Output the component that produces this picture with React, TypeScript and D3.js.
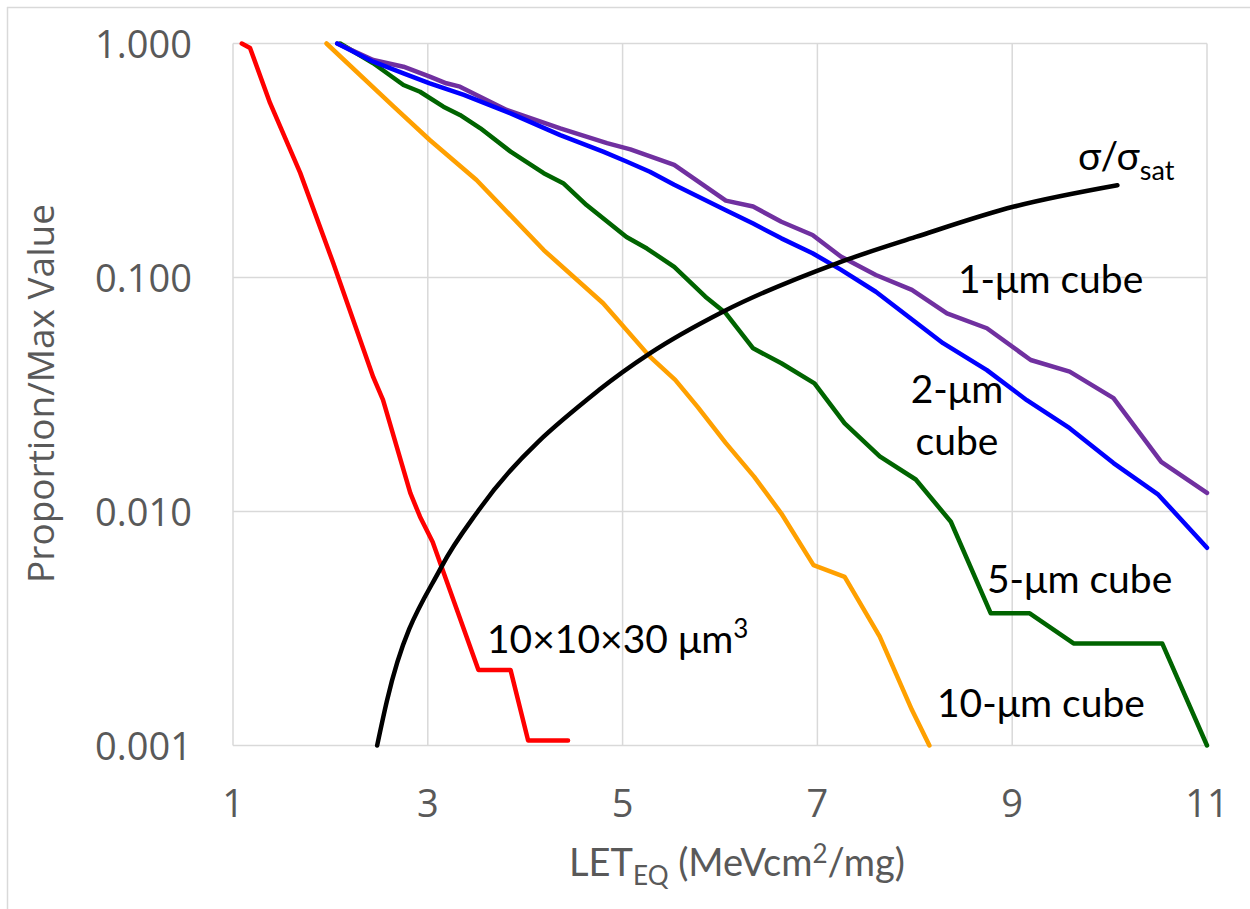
import React from "react";
import * as d3 from "d3";

const W = 1250;
const H = 909;

// x-axis (LET) ticks and y-axis (log) ticks
const xTicks = [1, 3, 5, 7, 9, 11];
const yTicks = [1, 0.1, 0.01, 0.001];
const yTickLabels = ["1.000", "0.100", "0.010", "0.001"];

// 10x10x30 um^3
const redX = [1.09, 1.175, 1.38, 1.69, 2.03, 2.44, 2.54, 2.82, 2.92, 3.05, 3.52, 3.85, 4.03, 4.44];
const redY = [1.0, 0.957, 0.557, 0.28, 0.115, 0.0375, 0.03, 0.012, 0.0095, 0.0074, 0.0021, 0.0021, 0.00105, 0.00105];

// 10-um cube
const orangeX = [1.96, 2.65, 3.02, 3.5, 4.19, 4.8, 5.28, 5.54, 5.77, 6.06, 6.35, 6.63, 6.96, 7.28, 7.64, 7.97, 8.15];
const orangeY = [1.0, 0.537, 0.387, 0.261, 0.131, 0.0776, 0.0459, 0.0365, 0.028, 0.0196, 0.0141, 0.0098, 0.0059, 0.00526, 0.00292, 0.00142, 0.001];

// 5-um cube
const greenX = [2.1, 2.44, 2.75, 2.92, 3.16, 3.33, 3.54, 3.85, 4.19, 4.39, 4.63, 5.04, 5.25, 5.53, 5.85, 6.06, 6.34, 6.63, 6.97, 7.28, 7.64, 8.01, 8.37, 8.78, 9.18, 9.63, 10.54, 11.0];
const greenY = [1.0, 0.823, 0.665, 0.622, 0.537, 0.495, 0.434, 0.345, 0.279, 0.253, 0.204, 0.149, 0.133, 0.111, 0.0828, 0.0703, 0.0498, 0.043, 0.0353, 0.0238, 0.0172, 0.0137, 0.00904, 0.00367, 0.00367, 0.00273, 0.00273, 0.001];

// 2-um cube
const blueX = [2.07, 2.44, 2.75, 3.02, 3.37, 3.85, 4.36, 4.8, 5.04, 5.28, 5.53, 6.06, 6.34, 6.63, 6.95, 7.24, 7.6, 8.29, 8.74, 9.15, 9.59, 10.04, 10.5, 11.0];
const blueY = [1.0, 0.836, 0.746, 0.676, 0.603, 0.503, 0.406, 0.345, 0.313, 0.283, 0.249, 0.194, 0.17, 0.147, 0.127, 0.108, 0.0869, 0.0524, 0.0402, 0.0299, 0.0227, 0.0161, 0.0118, 0.007];

// 1-um cube
const purpleX = [2.07, 2.44, 2.75, 3.02, 3.19, 3.33, 3.5, 3.81, 4.36, 4.84, 5.08, 5.53, 6.06, 6.34, 6.63, 6.95, 7.24, 7.6, 7.97, 8.33, 8.74, 9.19, 9.59, 10.04, 10.53, 11.0];
const purpleY = [1.0, 0.85, 0.796, 0.722, 0.676, 0.654, 0.603, 0.52, 0.434, 0.375, 0.353, 0.303, 0.213, 0.201, 0.173, 0.152, 0.123, 0.1025, 0.0885, 0.0703, 0.0607, 0.0444, 0.0396, 0.0305, 0.0163, 0.012];

// sigma / sigma_sat
const sigmaX = [2.48, 2.58, 3.14, 3.52, 4.76, 5.28, 6.03, 7.2, 8.01, 9.02, 10.08];
const sigmaY = [0.001, 0.00155, 0.0058, 0.0101, 0.0331, 0.0474, 0.0714, 0.115, 0.149, 0.201, 0.248];

const series = [
  { name: "10x10x30", xs: redX, ys: redY, color: "#ff0000", smooth: false },
  { name: "10um", xs: orangeX, ys: orangeY, color: "#ffa000", smooth: false },
  { name: "5um", xs: greenX, ys: greenY, color: "#006400", smooth: false },
  { name: "1um", xs: purpleX, ys: purpleY, color: "#7030a0", smooth: false },
  { name: "2um", xs: blueX, ys: blueY, color: "#0000ff", smooth: false },
  { name: "sigma", xs: sigmaX, ys: sigmaY, color: "#000000", smooth: true },
];

const plot = { left: 233, right: 1207, top: 43.5, bottom: 745.5 };

export default function App() {
  const x = d3.scaleLinear().domain([1, 11]).range([plot.left, plot.right]);
  const y = d3.scaleLog().domain([0.001, 1]).range([plot.bottom, plot.top]);

  const mk = (smooth: boolean) =>
    d3
      .line<[number, number]>()
      .x((d) => x(d[0]))
      .y((d) => y(d[1]))
      .curve(smooth ? d3.curveMonotoneX : d3.curveLinear);

  const tickFont = "'Open Sans', sans-serif";
  const annFont = "Lato, 'Open Sans', sans-serif";

  return (
    <svg
      width={W}
      height={H}
      style={{ position: "fixed", left: 0, top: 0, background: "#fff" }}
    >
      <rect x={0} y={0} width={W} height={H} fill="#fff" />
      <line x1={7.5} y1={7} x2={7.5} y2={H} stroke="#d9d9d9" strokeWidth={1.5} />
      <line x1={7} y1={7.5} x2={W} y2={7.5} stroke="#d9d9d9" strokeWidth={1.5} />
      <defs>
        <clipPath id="plotclip">
          <rect x={plot.left - 3} y={plot.top - 3} width={plot.right - plot.left + 6} height={plot.bottom - plot.top + 6} />
        </clipPath>
      </defs>
      {/* gridlines */}
      {xTicks.map((t) => (
        <line key={"gx" + t} x1={x(t)} x2={x(t)} y1={plot.top} y2={plot.bottom} stroke="#d9d9d9" strokeWidth={1.5} />
      ))}
      {yTicks.map((t) => (
        <line key={"gy" + t} x1={plot.left} x2={plot.right} y1={y(t)} y2={y(t)} stroke="#d9d9d9" strokeWidth={1.5} />
      ))}
      {/* tick labels */}
      {yTicks.map((t, i) => (
        <text key={"ty" + t} x={192} y={y(t) + 14} textAnchor="end" fontFamily={tickFont} fontSize={38} fill="#595959">
          {yTickLabels[i]}
        </text>
      ))}
      {xTicks.map((t) => (
        <text key={"tx" + t} x={x(t)} y={817} textAnchor="middle" fontFamily={tickFont} fontSize={38} fill="#595959">
          {t}
        </text>
      ))}
      {/* axis titles */}
      <text transform="translate(53.5,393.5) rotate(-90)" textAnchor="middle" fontFamily={tickFont} fontSize={37} fill="#595959">
        Proportion/Max Value
      </text>
      <text x={737} y={876} textAnchor="middle" fontFamily={annFont} fontSize={38} fill="#595959">
        LET
        <tspan fontSize={26} dy={9}>EQ</tspan>
        <tspan dy={-9}> (MeVcm</tspan>
        <tspan fontSize={26} dy={-13}>2</tspan>
        <tspan dy={13}>/mg)</tspan>
      </text>
      {/* lines */}
      <g clipPath="url(#plotclip)">
        {series.map((s) => {
          const pts: [number, number][] = s.xs.map((v, i) => [v, s.ys[i]]);
          return (
            <path
              key={s.name}
              d={mk(s.smooth)(pts) || ""}
              fill="none"
              stroke={s.color}
              strokeWidth={4.5}
              strokeLinejoin="round"
              strokeLinecap="round"
            />
          );
        })}
      </g>
      {/* annotations */}
      <g fontFamily={annFont} fontSize={39} fill="#000">
        <text x={1078} y={170}>
          σ/σ<tspan fontSize={27} dy={10}>sat</tspan>
        </text>
        <text x={958} y={293}>1-μm cube</text>
        <text x={957} y={403} textAnchor="middle">2-μm</text>
        <text x={957} y={455} textAnchor="middle">cube</text>
        <text x={987} y={593}>5-μm cube</text>
        <text x={937} y={717}>10-μm cube</text>
        <text x={487} y={653}>
          10×10×30 μm<tspan fontSize={26} dy={-15}>3</tspan>
        </text>
      </g>
    </svg>
  );
}
